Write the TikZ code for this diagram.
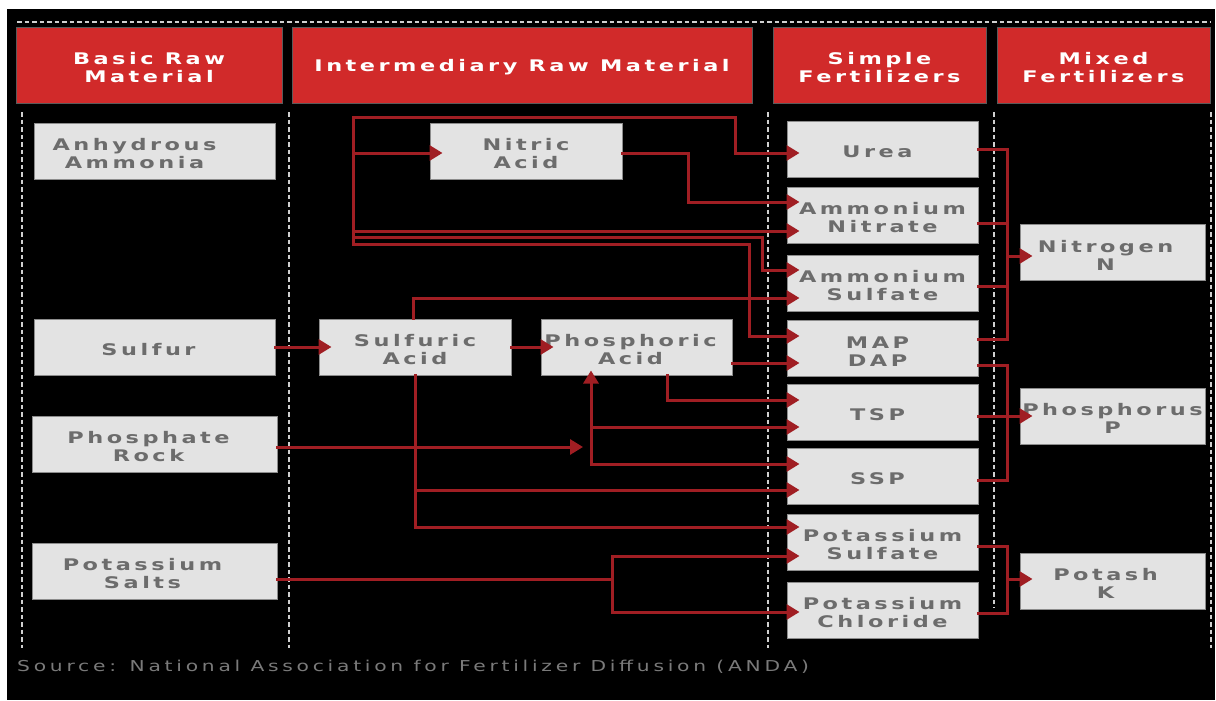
\documentclass[tikz,border=0pt]{standalone}
\usepackage{fontspec}
\usetikzlibrary{arrows.meta}
\newfontfamily\boxfont{DejaVu Sans}[UprightFont=* Bold,FakeStretch=1.4,LetterSpace=22]
\newfontfamily\srcfont{DejaVu Sans}[FakeStretch=1.35,LetterSpace=25]
\newcommand\topstrut{\rule{0pt}{17pt}}
\definecolor{pagebg}{HTML}{000000}
\definecolor{headred}{HTML}{D12A2A}
\definecolor{headedge}{HTML}{5A5A5A}
\definecolor{cellfill}{HTML}{E3E3E3}
\definecolor{celledge}{HTML}{8C8C8C}
\definecolor{celltext}{HTML}{6C6C6C}
\definecolor{wirered}{HTML}{A01E23}
\definecolor{rulegrey}{HTML}{D0D0D0}
\definecolor{srctext}{HTML}{7A7A7A}
\begin{document}
\begin{tikzpicture}[x=1pt,y=-1pt,
  cell/.style={draw=celledge,fill=cellfill,line width=1pt,text=celltext,
    font=\boxfont\fontsize{16}{18}\selectfont,align=center,inner sep=0pt,
    minimum height=56pt},
  head/.style={draw=headedge,fill=headred,line width=0.8pt,text=white,
    font=\boxfont\fontsize{16}{18}\selectfont,align=center,inner sep=0pt,
    minimum height=76pt},
  wire/.style={draw=wirered,line width=3pt,line cap=rect,line join=miter},
  tip/.style={-{Triangle[length=13pt,width=15pt]}},
  flow/.style={tip,shorten >=-13pt},
  rule/.style={draw=rulegrey,line width=1.6pt,dash pattern=on 4.5pt off 3pt}]
\useasboundingbox (0,0) rectangle (1216,701);
\fill[white] (0,0) rectangle (1216,701);
\fill[pagebg] (7,9) rectangle (1215,700);

% dotted column rules
\draw[rule] (17,22) -- (1210,22);
\foreach \x in {22,289,768,1211} \draw[rule] (\x,112) -- (\x,648);
\draw[rule] (994,112) -- (994,608);

% column headers
\node[head,minimum width=266pt] (hbasic)  at (149,65)    {\topstrut Basic Raw\\Material};
\node[head,minimum width=460pt] (hinter)  at (522,65)    {\topstrut Intermediary Raw Material};
\node[head,minimum width=213pt] (hsimple) at (879.5,65)  {\topstrut Simple\\Fertilizers};
\node[head,minimum width=213pt] (hmixed)  at (1103.5,65) {\topstrut Mixed\\Fertilizers};

% basic raw materials
\node[cell,minimum width=241pt] (ammonia) at (154.5,151)
  {\topstrut\hspace*{-40pt}Anhydrous\\\hspace*{-40pt}Ammonia};
\node[cell,minimum width=241pt] (sulfur)  at (154.5,347) {\topstrut\hspace*{-12pt}Sulfur};
\node[cell,minimum width=245pt] (rock)    at (154.5,444.5)
  {\topstrut\hspace*{-12pt}Phosphate\\\hspace*{-12pt}Rock};
\node[cell,minimum width=245pt] (salts)   at (154.5,571)
  {\topstrut\hspace*{-24pt}Potassium\\\hspace*{-24pt}Salts};

% intermediary raw materials
\node[cell,minimum width=192pt] (nitric)   at (526,151)   {\topstrut Nitric\\Acid};
\node[cell,minimum width=192pt] (sulfuric) at (415,347)   {\topstrut Sulfuric\\Acid};
\node[cell,minimum width=191pt] (phosacid) at (636.5,347)
  {\topstrut\hspace*{-12pt}Phosphoric\\\hspace*{-12pt}Acid};

% simple fertilizers
\node[cell,minimum width=191pt] (urea)   at (882.5,149.5) {\topstrut\hspace*{-10pt}Urea};
\node[cell,minimum width=191pt] (amnit)  at (882.5,215)   {\topstrut Ammonium\\Nitrate};
\node[cell,minimum width=191pt] (amsul)  at (882.5,283)   {\topstrut Ammonium\\Sulfate};
\node[cell,minimum width=191pt] (mapdap) at (882.5,348.5)
  {\topstrut\hspace*{-10pt}MAP\\\hspace*{-10pt}DAP};
\node[cell,minimum width=191pt] (tsp)    at (882.5,412.5) {\topstrut\hspace*{-10pt}TSP};
\node[cell,minimum width=191pt] (ssp)    at (882.5,476.5) {\topstrut\hspace*{-10pt}SSP};
\node[cell,minimum width=191pt] (ksul)   at (882.5,542.5) {\topstrut Potassium\\Sulfate};
\node[cell,minimum width=191pt] (kchl)   at (882.5,610)   {\topstrut Potassium\\Chloride};

% mixed fertilizers
\node[cell,minimum width=185pt] (nitrogen)   at (1112.5,252.5)
  {\topstrut\hspace*{-14pt}Nitrogen\\\hspace*{-14pt}N};
\node[cell,minimum width=185pt] (phosphorus) at (1112.5,416)   {\topstrut Phosphorus\\P};
\node[cell,minimum width=185pt] (potash)     at (1112.5,581)
  {\topstrut\hspace*{-14pt}Potash\\\hspace*{-14pt}K};

% ammonia distribution bus
\coordinate (nbus) at (353,117);
\draw[wire,flow] (nbus) -- (735,117) |- (urea.west |- 0,153);
\draw[wire,flow] (nbus) -- (353,244) -- (749,244) |- (mapdap.west |- 0,336);
\draw[wire,flow] (353,153) -- (nitric.west |- 0,153);
\draw[wire,flow] (353,231) -- (amnit.west |- 0,231);
\draw[wire,flow] (353,237) -- (762,237) |- (amsul.west |- 0,270);
\draw[wire,flow] (nitric.east |- 0,153) -- (688,153) |- (amnit.west |- 0,202);

% sulfur and sulfuric acid
\draw[wire,flow] (sulfur.east) -- (sulfuric.west);
\draw[wire,flow] (sulfuric.east) -- (phosacid.west);
\draw[wire,flow] (sulfuric.north -| 413,0) |- (amsul.west |- 0,298);
\draw[wire,flow] (sulfuric.south -| 415,0) |- (ksul.west |- 0,527);
\draw[wire,flow] (415,490) -- (ssp.west |- 0,490);

% phosphoric acid
\draw[wire,flow] (phosacid.east |- 0,363) -- (mapdap.west |- 0,363);
\draw[wire,flow] (phosacid.south -| 667,0) |- (tsp.west |- 0,400);

% phosphate rock
\coordinate (rockin) at (583,447);
\draw[wire,tip] (rock.east |- 0,447) -- (rockin);
\draw[wire,tip,shorten >=-5pt] (591,464) -- (phosacid.south -| 591,0);
\draw[wire,flow] (591,427) -- (tsp.west |- 0,427);
\draw[wire,flow] (591,464) -- (ssp.west |- 0,464);

% potassium salts
\draw[wire] (salts.east |- 0,579) -- (612,579);
\draw[wire,flow] (612,579) |- (ksul.west |- 0,556);
\draw[wire,flow] (612,579) |- (kchl.west |- 0,612);

% nitrogen group
\draw[wire] (urea.east |- 0,149) -- (1007,149) -- (1007,339) -- (mapdap.east |- 0,339);
\draw[wire] (amnit.east |- 0,223) -- (1007,223);
\draw[wire] (amsul.east |- 0,286) -- (1007,286);
\draw[wire,flow] (1007,256) -- (nitrogen.west |- 0,256);

% phosphorus group
\draw[wire] (mapdap.east |- 0,365) -- (1007,365) -- (1007,480) -- (ssp.east |- 0,480);
\draw[wire,flow] (tsp.east |- 0,416) -- (phosphorus.west |- 0,416);

% potash group
\draw[wire] (ksul.east |- 0,546) -- (1007,546) -- (1007,613) -- (kchl.east |- 0,613);
\draw[wire,flow] (1007,579) -- (potash.west |- 0,579);

% source line
\node[anchor=west,inner sep=0pt,text=srctext,font=\srcfont\fontsize{15}{18}\selectfont]
  (source) at (17,667) {Source: National Association for Fertilizer Diffusion (ANDA)};
\end{tikzpicture}
\end{document}
